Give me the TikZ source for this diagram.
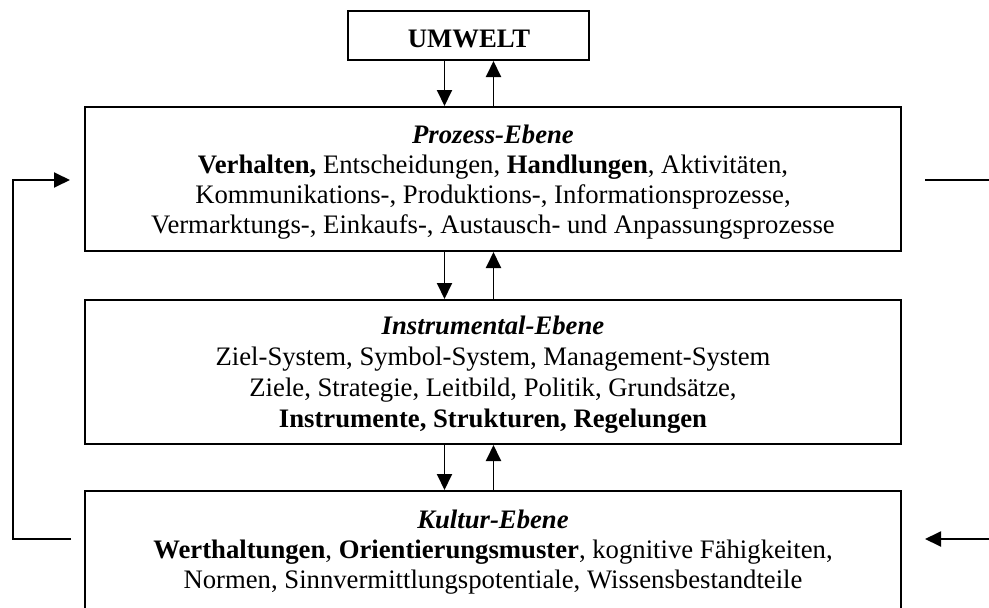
\documentclass[tikz,border=0pt]{standalone}
\usepackage{fontspec}
\setmainfont{Liberation Serif}
\usetikzlibrary{arrows.meta}

\tikzset{
  level/.style={draw, line width=2pt, inner sep=0pt, minimum width=816pt, minimum height=144pt},
  txt/.style={anchor=base, inner sep=0pt, font=\fontsize{26.7}{30}\selectfont},
  link/.style={line width=1.9pt},
  arr/.style={link, -{Triangle[length=16pt,width=15pt]}},
}

\begin{document}
\begin{tikzpicture}[x=1pt, y=-1pt]
  \useasboundingbox (0,0) rectangle (989,608);
  \clip (0,0) rectangle (989,608);

  % boxes
  \node[draw, line width=2pt, inner sep=0pt, minimum width=241pt, minimum height=49pt] (umwelt) at (468.5,35.5) {};
  \node[level] (prozess) at (493,179) {};
  \node[level] (instr) at (493,372) {};
  \node[level] (kultur) at (493,563) {};

  % texts
  \node[txt] (t0) at (469,47) {\textbf{UMWELT}};

  \node[txt] (p1) at (493,143) {\textbf{\textit{Prozess-Ebene}}};
  \node[txt] (p2) at (493,173) {\textbf{Verhalten,} Entscheidungen, \textbf{Handlungen}, Aktivitäten,};
  \node[txt] (p3) at (493,203) {Kommunikations-, Produktions-, Informationsprozesse,};
  \node[txt] (p4) at (493,233) {Vermarktungs-, Einkaufs-, Austausch- und Anpassungsprozesse};

  \node[txt] (i1) at (493,334) {\textbf{\textit{Instrumental-Ebene}}};
  \node[txt] (i2) at (493,365) {Ziel-System, Symbol-System, Management-System};
  \node[txt] (i3) at (493,396) {Ziele, Strategie, Leitbild, Politik, Grundsätze,};
  \node[txt] (i4) at (493,427) {\textbf{Instrumente, Strukturen, Regelungen}};

  \node[txt] (k1) at (493,528) {\textbf{\textit{Kultur-Ebene}}};
  \node[txt] (k2) at (493,558) {\textbf{Werthaltungen}, \textbf{Orientierungsmuster}, kognitive Fähigkeiten,};
  \node[txt] (k3) at (493,588) {Normen, Sinnvermittlungspotentiale, Wissensbestandteile};

  % vertical exchange arrows
  \coordinate (dx) at (444.5,0);
  \coordinate (ux) at (493.5,0);
  \draw[arr] (umwelt.south -| dx) -- (prozess.north -| dx);
  \draw[arr] (prozess.north -| ux) -- (umwelt.south -| ux);
  \draw[arr] (prozess.south -| dx) -- (instr.north -| dx);
  \draw[arr] (instr.north -| ux) -- (prozess.south -| ux);
  \draw[arr] (instr.south -| dx) -- (kultur.north -| dx);
  \draw[arr] (kultur.north -| ux) -- (instr.south -| ux);

  % feedback loops at the sides
  \coordinate (lx) at (13,0);
  \coordinate (rx) at (997,0);
  \coordinate (kl) at (71,539);
  \coordinate (pl) at (70,180);
  \coordinate (pr) at (925,180);
  \coordinate (kr) at (925,539);
  \draw[arr] (kl) -- (lx |- kl) -- (lx |- pl) -- (pl);
  \draw[arr] (pr) -- (rx |- pr) -- (rx |- kr) -- (kr);
\end{tikzpicture}
\end{document}
